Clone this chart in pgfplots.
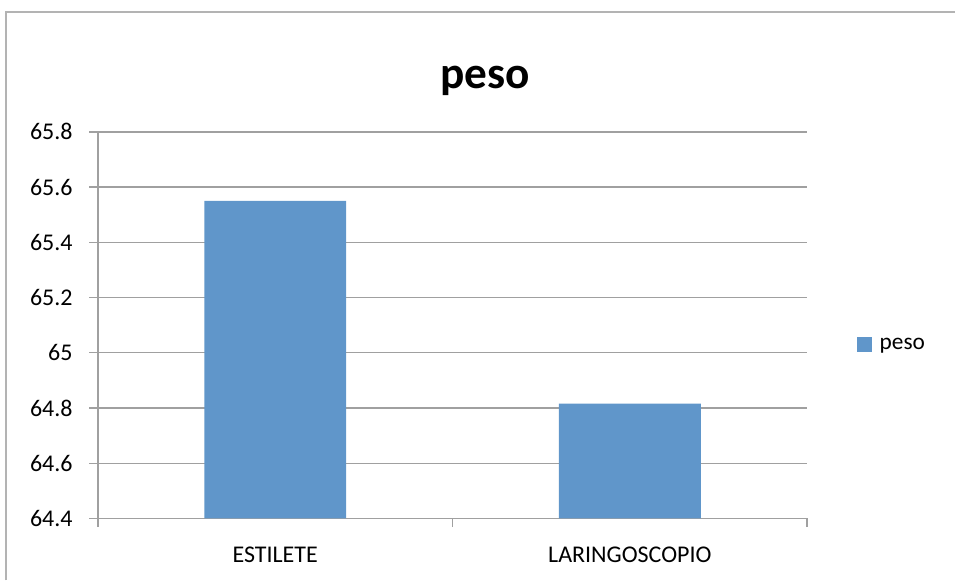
\documentclass[border=0pt]{standalone}
\usepackage{pgfplots}
\pgfplotsset{compat=1.18}
\usepackage{fontspec}
\setmainfont{Carlito}
\definecolor{barblue}{RGB}{96,150,202}
\definecolor{gridgray}{RGB}{160,160,160}
\begin{document}
\begin{tikzpicture}
  \begin{axis}[
    scale only axis,
    width=532.5pt, height=290.25pt,
    ybar, bar width=106.5pt,
    xmin=-0.5, xmax=1.5,
    ymin=64.4, ymax=65.8,
    axis x line*=bottom, axis y line*=left,
    axis line style={gridgray, line width=1pt},
    xtick={-0.5,0.5,1.5},
    x tick label as interval,
    xticklabels={ESTILETE,LARINGOSCOPIO},
    ytick={64.4,64.6,64.8,65,65.2,65.4,65.6,65.8},
    yticklabels={64.4,64.6,64.8,65,65.2,65.4,65.6,65.8},
    tick align=outside,
    major tick length=6.5pt,
    tick style={gridgray, line width=1pt},
    ymajorgrids,
    grid style={gridgray, line width=1pt},
    tick label style={font=\fontsize{18}{20}\selectfont, black},
    y tick label style={xshift=-9pt},
    x tick label style={yshift=-11pt},
    legend style={draw=none, at={(1.07,0.45)}, anchor=west,
      font=\fontsize{17.5}{20}\selectfont, inner sep=0pt},
    legend image code/.code={\fill[barblue] (0pt,-5.5pt) rectangle (11pt,5.5pt);},
    legend cell align=left,
    clip=false,
  ]
    \addplot[fill=barblue, draw=none] coordinates {(0,65.55) (1,64.816)};
    \addlegendentry{\hspace{4pt}peso}
    \node[anchor=base, font=\bfseries\fontsize{34}{40}\selectfont] at (rel axis cs:0.546,1.112) {peso};
    \coordinate (A) at (rel axis cs:0,0);
  \end{axis}
  \draw[gridgray!80, line width=1.5pt] ([shift={(-69pt,-46.5pt)}]A) -- ([shift={(-69pt,380.25pt)}]A) -- ([shift={(643.5pt,380.25pt)}]A);
  \useasboundingbox ([shift={(-73.5pt,-46.5pt)}]A) rectangle ([shift={(643.5pt,389.25pt)}]A);
\end{tikzpicture}
\end{document}
